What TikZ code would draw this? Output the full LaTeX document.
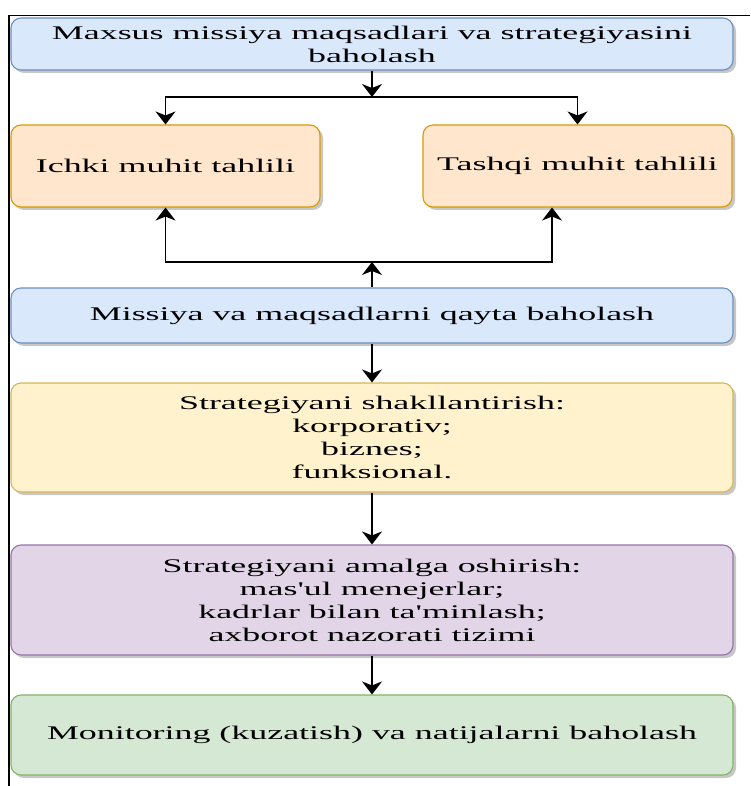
\documentclass[tikz,border=0pt]{standalone}
\usepackage{fontspec}
% wide serif face, straight apostrophes kept as typed
\newfontfamily\diagfont[FakeStretch=1.86]{Liberation Serif}
\usetikzlibrary{arrows.meta,shadows}

\definecolor{blueF}{HTML}{DAE8FC}\definecolor{blueD}{HTML}{6C8EBF}
\definecolor{orangeF}{HTML}{FFE6CC}\definecolor{orangeD}{HTML}{D79B00}
\definecolor{yellowF}{HTML}{FFF2CC}\definecolor{yellowD}{HTML}{D6B656}
\definecolor{purpleF}{HTML}{E1D5E7}\definecolor{purpleD}{HTML}{9673A6}
\definecolor{greenF}{HTML}{D5E8D4}\definecolor{greenD}{HTML}{82B366}

\begin{document}
\begin{tikzpicture}[x=1pt,y=-1pt,
  box/.style={draw, rounded corners=10pt, line width=1.1pt, align=center,
    inner sep=0pt, font=\diagfont\fontsize{19.3}{23}\selectfont,
    drop shadow={shadow xshift=3pt,shadow yshift=-3pt,opacity=0.22,fill=black}},
  widebox/.style={box, minimum width=722pt},
  halfbox/.style={box, minimum width=309pt, minimum height=82pt},
  bluebox/.style={fill=blueF, draw=blueD},
  orangebox/.style={fill=orangeF, draw=orangeD},
  yellowbox/.style={fill=yellowF, draw=yellowD},
  purplebox/.style={fill=purpleF, draw=purpleD},
  greenbox/.style={fill=greenF, draw=greenD},
  arr/.style={line width=1.3pt, -{Stealth[length=13pt,width=20pt,inset=4pt]}},
  frameline/.style={line width=1.3pt, black}
]
\useasboundingbox (0,0) rectangle (750,786);

% outer frame edges
\coordinate (fTR) at (750,15.5);
\coordinate (fTL) at (9,15.5);
\coordinate (fBL) at (9,786);
\draw[frameline] (fTR) -- (fTL) -- (fBL);

% boxes
\node[widebox, bluebox, minimum height=52pt] (top) at (372,44)
  {Maxsus missiya maqsadlari va strategiyasini\\baholash};
\node[halfbox, orangebox] (ichki) at (165.5,166) {Ichki muhit tahlili};
\node[halfbox, orangebox] (tashqi) at (577.5,166) {Tashqi muhit tahlili};
\node[widebox, bluebox, minimum height=55pt] (qayta) at (372,315.5)
  {Missiya va maqsadlarni qayta baholash};
\node[widebox, yellowbox, minimum height=109pt] (shakl) at (372,437.5)
  {Strategiyani shakllantirish:\\korporativ;\\biznes;\\funksional.};
\node[widebox, purplebox, minimum height=110pt] (amal) at (372,600)
  {Strategiyani amalga oshirish:\\mas'ul menejerlar;\\kadrlar bilan ta'minlash;\\axborot nazorati tizimi};
\node[widebox, greenbox, minimum height=80pt] (monit) at (372,735)
  {Monitoring (kuzatish) va natijalarni baholash};

% split under the first box
\coordinate (j1) at (372,97);
\draw[arr] (top.south) -- (j1);
\draw[arr] (j1) -| (ichki.north);
\draw[arr] (j1) -| (tashqi.north);

% feedback from the re-evaluation box
\coordinate (j2) at (372,262);
\draw[arr] (qayta.north) -- (j2);
\draw[arr] (j2) -| (ichki.south);
\draw[arr] (j2) -| ([xshift=-25.5pt]tashqi.south);

% main chain
\draw[arr] (qayta.south) -- (shakl.north);
\draw[arr] (shakl.south) -- (amal.north);
\draw[arr] (amal.south) -- (monit.north);
\end{tikzpicture}
\end{document}
